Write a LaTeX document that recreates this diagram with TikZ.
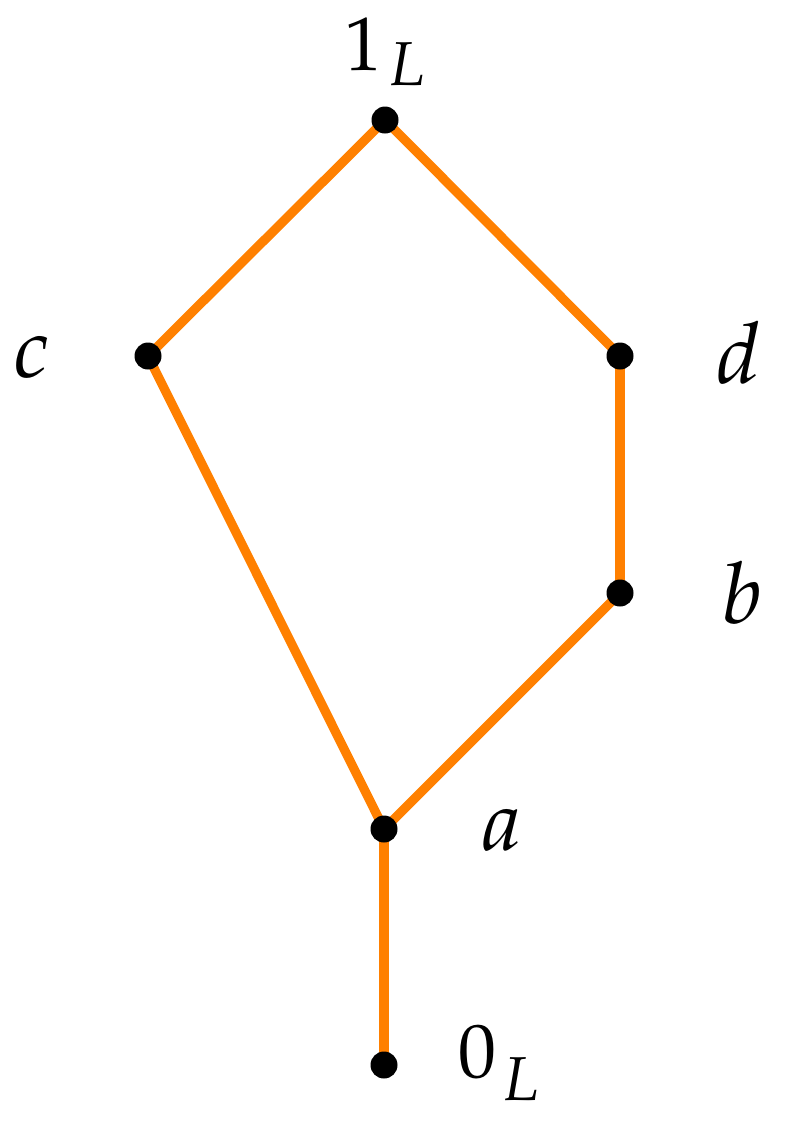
\documentclass[tikz,border=0pt]{standalone}
\usepackage{mathpazo}
\usetikzlibrary{backgrounds}
\definecolor{edgeorange}{RGB}{255,128,0}
\begin{document}
\begin{tikzpicture}[x=0.5pt,y=-0.5pt,
  edge/.style={draw=edgeorange, line width=4.6pt},
  dot/.style={circle, fill=black, inner sep=0pt, minimum size=13.5pt},
  lbl/.style={inner sep=0pt, anchor=base west, font=\fontsize{42.6}{50}\selectfont},
  num/.style={inner sep=0pt, anchor=base west, font=\fontsize{38}{44}\selectfont},
  sub/.style={font=\fontsize{31}{36}\selectfont}]
\useasboundingbox (0,0) rectangle (786,1131);
\node[dot] (top) at (385,120) {};
\node[dot] (c) at (148,356) {};
\node[dot] (d) at (620,356) {};
\node[dot] (b) at (620,593) {};
\node[dot] (a) at (384,829) {};
\node[dot] (bot) at (384,1065) {};
\begin{pgfonlayer}{background}
\draw[edge] (top.center) -- (c.center);
\draw[edge] (top.center) -- (d.center);
\draw[edge] (d.center) -- (b.center);
\draw[edge] (b.center) -- (a.center);
\draw[edge] (c.center) -- (a.center);
\draw[edge] (a.center) -- (bot.center);
\end{pgfonlayer}
\node[num] (ltop) at (344,70) {$1$\hspace{2.5pt}\raisebox{-7.5pt}{\fontsize{31}{36}\selectfont$L$}};
\node[num] (lbot) at (458,1077) {$0$\hspace{2.5pt}\raisebox{-11.5pt}{\fontsize{31}{36}\selectfont$L$}};
\node[lbl] (lc) at (13,377) {$c$};
\node[lbl] (ld) at (716,383) {$d$};
\node[lbl] (lb) at (721,623) {$b$};
\node[lbl] (la) at (481,850) {$a$};
\end{tikzpicture}
\end{document}
